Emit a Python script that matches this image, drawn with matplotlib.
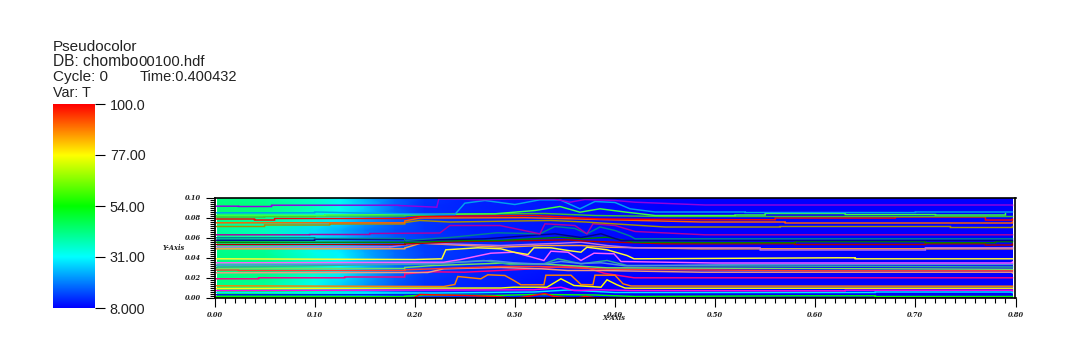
import matplotlib
matplotlib.use('Agg')
import matplotlib.pyplot as plt
from matplotlib.colors import LinearSegmentedColormap
import numpy as np

T_MIN = 8.0
T_MAX = 100.0
bar_ticks = [8.0, 31.0, 54.0, 77.0, 100.0]
bar_labels = ['8.000', '31.00', '54.00', '77.00', '100.0']
x_ticks = [0.0, 0.1, 0.2, 0.3, 0.4, 0.5, 0.6, 0.7, 0.8]
y_ticks = [0.0, 0.02, 0.04, 0.06, 0.08, 0.1]

# temperature, rows are y, columns are x
field_x = [0.003, 0.05, 0.10, 0.125, 0.15, 0.18, 0.21, 0.26, 0.34, 0.40, 0.45, 0.797]
field_y = [0.0, 0.012, 0.03, 0.045, 0.067, 0.08, 0.09, 0.1]
field_t = [
    [50, 50, 44, 38, 30, 20, 14, 11, 9, 8, 8, 8],
    [42, 40, 32, 27, 22, 16, 12, 11, 9, 8, 8, 8],
    [43, 43, 37, 32, 25, 18, 14, 11, 10, 9, 8, 8],
    [42, 41, 33, 30, 24, 18, 14, 12, 10, 9, 8, 8],
    [40, 37, 28, 24, 19, 15, 13, 11, 10, 9, 8, 8],
    [42, 41, 35, 30, 24, 17, 13, 11, 10, 9, 8, 8],
    [44, 43, 37, 33, 26, 17, 12, 11, 10, 9, 8, 8],
    [42, 41, 36, 30, 24, 17, 13, 11, 10, 9, 8, 8],
]

# contour lines, one x and y list each
violet_x = [0.002, 0.024, 0.057, 0.184, 0.222, 0.224, 0.245, 0.262, 0.30, 0.34, 0.355, 0.37, 0.40, 0.42, 0.49, 0.797]
violet_y = [0.0913, 0.091, 0.0923, 0.092, 0.0903, 0.0985, 0.0985, 0.0977, 0.0985, 0.0985, 0.0953, 0.098, 0.097, 0.0953, 0.0925, 0.092]
sky_x = [0.002, 0.10, 0.20, 0.24, 0.25, 0.27, 0.30, 0.325, 0.345, 0.365, 0.38, 0.40, 0.415, 0.44, 0.53, 0.70, 0.797]
sky_y = [0.0847, 0.0855, 0.0835, 0.083, 0.0943, 0.097, 0.093, 0.0977, 0.0977, 0.0887, 0.096, 0.095, 0.0887, 0.0855, 0.085, 0.0855, 0.0855]
lime_x = [0.002, 0.11, 0.20, 0.28, 0.32, 0.345, 0.365, 0.385, 0.41, 0.44, 0.52, 0.55, 0.63, 0.72, 0.79]
lime_y = [0.082, 0.0825, 0.083, 0.0837, 0.087, 0.091, 0.0853, 0.0887, 0.0855, 0.082, 0.0825, 0.084, 0.083, 0.0825, 0.084]
seagreen_x = [0.002, 0.05, 0.10, 0.19, 0.25, 0.33, 0.38, 0.45, 0.797]
seagreen_y = [0.0805, 0.081, 0.0815, 0.082, 0.0835, 0.084, 0.082, 0.081, 0.081]
red_x = [0.002, 0.04, 0.06, 0.19, 0.205, 0.32, 0.385, 0.49, 0.56, 0.68, 0.77, 0.797]
red_y = [0.0785, 0.0775, 0.079, 0.079, 0.081, 0.082, 0.0785, 0.0778, 0.0795, 0.0805, 0.0775, 0.0785]
orange_x = [0.002, 0.19, 0.205, 0.31, 0.385, 0.486, 0.57, 0.797]
orange_y = [0.0747, 0.0765, 0.0795, 0.0798, 0.078, 0.0755, 0.0745, 0.0755]
olive_x = [0.002, 0.05, 0.115, 0.19, 0.205, 0.235, 0.336, 0.37, 0.45, 0.565, 0.735, 0.797]
olive_y = [0.071, 0.0725, 0.0735, 0.075, 0.077, 0.0755, 0.077, 0.0755, 0.0705, 0.071, 0.07, 0.071]
purple_x = [0.002, 0.095, 0.155, 0.225, 0.235, 0.285, 0.325, 0.33, 0.36, 0.372, 0.378, 0.40, 0.42, 0.49, 0.797]
purple_y = [0.0627, 0.063, 0.064, 0.0645, 0.072, 0.072, 0.0637, 0.0737, 0.072, 0.0637, 0.0737, 0.072, 0.066, 0.0627, 0.0627]
teal_x = [0.002, 0.10, 0.19, 0.235, 0.282, 0.325, 0.34, 0.36, 0.372, 0.385, 0.40, 0.415, 0.42, 0.797]
teal_y = [0.0597, 0.059, 0.057, 0.06, 0.0647, 0.0637, 0.071, 0.069, 0.0637, 0.0705, 0.067, 0.0615, 0.0587, 0.0587]
navy_x = [0.002, 0.10, 0.19, 0.27, 0.34, 0.366, 0.386, 0.406, 0.797]
navy_y = [0.0573, 0.058, 0.057, 0.0587, 0.0637, 0.06, 0.0637, 0.057, 0.057]
dkgreen_x = [0.002, 0.19, 0.25, 0.286, 0.346, 0.366, 0.392, 0.419, 0.50, 0.58, 0.71, 0.78, 0.797]
dkgreen_y = [0.0553, 0.055, 0.057, 0.057, 0.0603, 0.0587, 0.0603, 0.0553, 0.0548, 0.0558, 0.0548, 0.0558, 0.0555]
dkred_x = [0.002, 0.19, 0.25, 0.319, 0.353, 0.372, 0.45, 0.58, 0.71, 0.77, 0.797]
dkred_y = [0.053, 0.0535, 0.056, 0.057, 0.0577, 0.0563, 0.0537, 0.053, 0.0537, 0.0525, 0.0535]
lilac_x = [0.002, 0.175, 0.203, 0.286, 0.346, 0.366, 0.392, 0.419, 0.50, 0.545, 0.71, 0.797]
lilac_y = [0.0507, 0.0505, 0.0545, 0.052, 0.0543, 0.0553, 0.052, 0.0497, 0.0497, 0.0475, 0.0497, 0.05]
apricot_x = [0.002, 0.19, 0.206, 0.286, 0.329, 0.366, 0.392, 0.486, 0.797]
apricot_y = [0.0487, 0.0495, 0.0543, 0.0503, 0.052, 0.052, 0.0503, 0.0487, 0.0487]
yellow_x = [0.002, 0.20, 0.227, 0.231, 0.263, 0.286, 0.299, 0.313, 0.319, 0.336, 0.353, 0.366, 0.372, 0.392, 0.412, 0.419, 0.622, 0.64, 0.797]
yellow_y = [0.0387, 0.038, 0.0387, 0.0477, 0.0497, 0.0487, 0.0453, 0.043, 0.0497, 0.0497, 0.047, 0.0453, 0.0503, 0.0477, 0.042, 0.0387, 0.0397, 0.0387, 0.0387]
pink_x = [0.002, 0.229, 0.246, 0.276, 0.299, 0.329, 0.336, 0.353, 0.366, 0.379, 0.399, 0.406, 0.50, 0.797]
pink_y = [0.0347, 0.0353, 0.038, 0.0443, 0.0453, 0.037, 0.0463, 0.0453, 0.037, 0.0443, 0.0437, 0.036, 0.0345, 0.0355]
steel_x = [0.002, 0.219, 0.276, 0.299, 0.329, 0.346, 0.366, 0.386, 0.41, 0.53, 0.797]
steel_y = [0.0323, 0.034, 0.037, 0.0347, 0.0333, 0.036, 0.034, 0.0347, 0.0317, 0.033, 0.033]
seafoam_x = [0.002, 0.219, 0.269, 0.296, 0.329, 0.343, 0.366, 0.392, 0.412, 0.797]
seafoam_y = [0.0303, 0.0337, 0.037, 0.033, 0.0337, 0.0387, 0.0337, 0.037, 0.032, 0.0305]
mint_x = [0.002, 0.19, 0.219, 0.286, 0.336, 0.392, 0.797]
mint_y = [0.029, 0.03, 0.032, 0.0343, 0.033, 0.0297, 0.0282]
coral_x = [0.002, 0.024, 0.19, 0.286, 0.326, 0.392, 0.60, 0.797]
coral_y = [0.0275, 0.027, 0.0277, 0.031, 0.031, 0.0283, 0.0267, 0.027]
salmon_x = [0.002, 0.213, 0.229, 0.286, 0.326, 0.353, 0.386, 0.486, 0.797]
salmon_y = [0.0247, 0.025, 0.0287, 0.03, 0.0287, 0.027, 0.027, 0.0253, 0.0245]
crimson_x = [0.002, 0.044, 0.13, 0.19, 0.213, 0.25, 0.319, 0.353, 0.372, 0.389, 0.419, 0.797]
crimson_y = [0.0187, 0.0197, 0.0205, 0.0235, 0.0257, 0.0253, 0.0287, 0.031, 0.0297, 0.0243, 0.0197, 0.0197]
tangerine_x = [0.002, 0.229, 0.24, 0.243, 0.266, 0.273, 0.29, 0.299, 0.306, 0.329, 0.331, 0.356, 0.366, 0.378, 0.38, 0.40, 0.408, 0.416, 0.797]
tangerine_y = [0.0117, 0.011, 0.013, 0.021, 0.0187, 0.0227, 0.022, 0.017, 0.0127, 0.0127, 0.0223, 0.0223, 0.013, 0.0127, 0.0223, 0.0223, 0.0137, 0.0115, 0.0113]
lemon_x = [0.002, 0.286, 0.299, 0.332, 0.346, 0.359, 0.386, 0.392, 0.402, 0.41, 0.416, 0.797]
lemon_y = [0.009, 0.0095, 0.0103, 0.0103, 0.0187, 0.012, 0.0103, 0.0177, 0.0127, 0.0095, 0.0093, 0.0093]
magenta_x = [0.002, 0.319, 0.346, 0.359, 0.386, 0.416, 0.566, 0.63, 0.797]
magenta_y = [0.007, 0.0077, 0.0103, 0.007, 0.0077, 0.007, 0.0067, 0.0073, 0.0067]
cyan_x = [0.002, 0.22, 0.319, 0.353, 0.40, 0.513, 0.66, 0.797]
cyan_y = [0.005, 0.0045, 0.0055, 0.0075, 0.005, 0.005, 0.0055, 0.0048]
blue_x = [0.002, 0.19, 0.23, 0.30]
blue_y = [0.0027, 0.0027, 0.0035, 0.003]
green_x = [0.002, 0.19, 0.21, 0.28, 0.32, 0.38, 0.42, 0.58, 0.66, 0.797]
green_y = [0.0007, 0.0012, 0.0025, 0.002, 0.003, 0.0025, 0.001, 0.0017, 0.001, 0.001]
scarlet_x = [0.198, 0.205, 0.25, 0.28, 0.30, 0.33, 0.339, 0.36, 0.37, 0.386, 0.39]
scarlet_y = [-0.001, 0.003, 0.002, 0.001, -0.001, 0.004, 0.001, -0.001, 0.001, -0.001, -0.001]

contours = [
    (blue_x, blue_y, '#0018e8'), (green_x, green_y, '#00ff00'), (cyan_x, cyan_y, '#00e8ff'),
    (magenta_x, magenta_y, '#ff00e0'), (scarlet_x, scarlet_y, '#ff0000'),
    (crimson_x, crimson_y, '#ff0080'), (salmon_x, salmon_y, '#f09a80'), (coral_x, coral_y, '#ff3a30'),
    (mint_x, mint_y, '#70e060'), (seafoam_x, seafoam_y, '#30b090'), (steel_x, steel_y, '#5090e0'),
    (pink_x, pink_y, '#ff60ff'), (tangerine_x, tangerine_y, '#ff8000'), (lemon_x, lemon_y, '#ffff00'),
    (apricot_x, apricot_y, '#ffa040'), (lilac_x, lilac_y, '#c070e0'), (dkred_x, dkred_y, '#b00000'),
    (dkgreen_x, dkgreen_y, '#008000'), (navy_x, navy_y, '#000090'), (teal_x, teal_y, '#008090'),
    (purple_x, purple_y, '#b000a0'), (olive_x, olive_y, '#a89000'), (orange_x, orange_y, '#ff6000'),
    (red_x, red_y, '#ff0000'), (seagreen_x, seagreen_y, '#40c030'), (lime_x, lime_y, '#40ff40'),
    (sky_x, sky_y, '#00a0f0'), (yellow_x, yellow_y, '#ffff30'), (violet_x, violet_y, '#9000e0'),
]

W, H = 1070, 351
plt.rcParams['font.family'] = ['Liberation Sans', 'DejaVu Sans']
temp_map = LinearSegmentedColormap.from_list(
    'visit_hot', ['#0000ff', '#00ffff', '#00ff00', '#ffff00', '#ff0000'])


def px_axes(fig, left, top, right, bottom):
    return fig.add_axes([left / W, 1 - bottom / H, (right - left) / W, (bottom - top) / H])


def blocky(xs, ys):
    # flat runs either side of the wavy middle are stair stepped
    out_x, out_y = [xs[0]], [ys[0]]
    for i in range(1, len(xs)):
        if xs[i] < 0.2 or xs[i - 1] > 0.42:
            out_x.append(xs[i])
            out_y.append(ys[i - 1])
        out_x.append(xs[i])
        out_y.append(ys[i])
    return out_x, out_y


def main():
    fig = plt.figure(figsize=(W / 100, H / 100), dpi=100, facecolor='white')

    # legend text block, baselines shared along a row
    for x, y, txt, size in [(53, 51, 'Pseudocolor', 11.0), (53, 66, 'DB: chombo', 11.2),
                            (138, 66, '00100.hdf', 10.6), (53, 81, 'Cycle: 0', 11.0),
                            (140, 81, 'Time:0.400432', 10.5), (53, 97, 'Var: T', 10.4)]:
        fig.text(x / W, 1 - y / H, txt, fontsize=size, va='baseline', ha='left', color='#222222')

    # colour bar
    cax = px_axes(fig, 53, 104, 95, 308)
    levels = np.linspace(T_MIN, T_MAX, 256).reshape(-1, 1)
    cax.imshow(levels, cmap=temp_map, origin='lower', aspect='auto',
               extent=[0, 1, T_MIN, T_MAX], vmin=T_MIN, vmax=T_MAX)
    cax.set_xticks([])
    cax.yaxis.tick_right()
    cax.set_yticks(bar_ticks, bar_labels, fontsize=10.4, color='#222222')
    cax.tick_params(axis='y', length=7.2, width=0.8, pad=3.5, color='black')
    for s in cax.spines.values():
        s.set_visible(False)

    # main plot
    ax = px_axes(fig, 214.5, 197.5, 1015.5, 297.5)
    ax.set_xlim(0, 0.8)
    ax.set_ylim(0, 0.1)
    ax.pcolormesh(field_x, field_y, np.array(field_t, dtype=float), cmap=temp_map,
                  vmin=T_MIN, vmax=T_MAX, shading='gouraud')
    for xs, ys, col in contours:
        step_x, step_y = blocky(xs, ys)
        ax.plot(step_x, step_y, color=col, lw=1.05, solid_joinstyle='miter')

    ax.set_xticks(x_ticks)
    ax.set_xticks(np.arange(0, 81) / 100, minor=True)
    ax.set_yticks(y_ticks)
    ax.set_yticks(np.arange(0, 51) / 500, minor=True)
    lab_font = dict(family='DejaVu Serif', style='italic', weight='bold', fontsize=4.8, color='#222222')
    ax.set_xticklabels(['%.2f' % v for v in x_ticks], **lab_font)
    ax.set_yticklabels(['%.2f' % v for v in y_ticks], **lab_font)
    ax.tick_params(which='major', length=6.8, width=0.8, pad=3.0)
    ax.tick_params(which='minor', length=3.4, width=0.8)
    ax.tick_params(axis='y', which='major', pad=3.0)
    for s in ax.spines.values():
        s.set_linewidth(1.2)

    ax.set_xlabel('X-Axis', labelpad=0, **lab_font)
    ax.xaxis.set_label_coords((614 - 214.5) / 801, -16.0 / 100)
    ax.set_ylabel('Y-Axis', rotation=0, **lab_font)
    ax.yaxis.set_label_coords((173.5 - 214.5) / 801, (297.5 - 248) / 100)
    ax.yaxis.label.set_va('center')
    ax.yaxis.label.set_ha('center')

    fig.savefig('out.png', dpi=100, facecolor='white')


if __name__ == '__main__':
    main()
